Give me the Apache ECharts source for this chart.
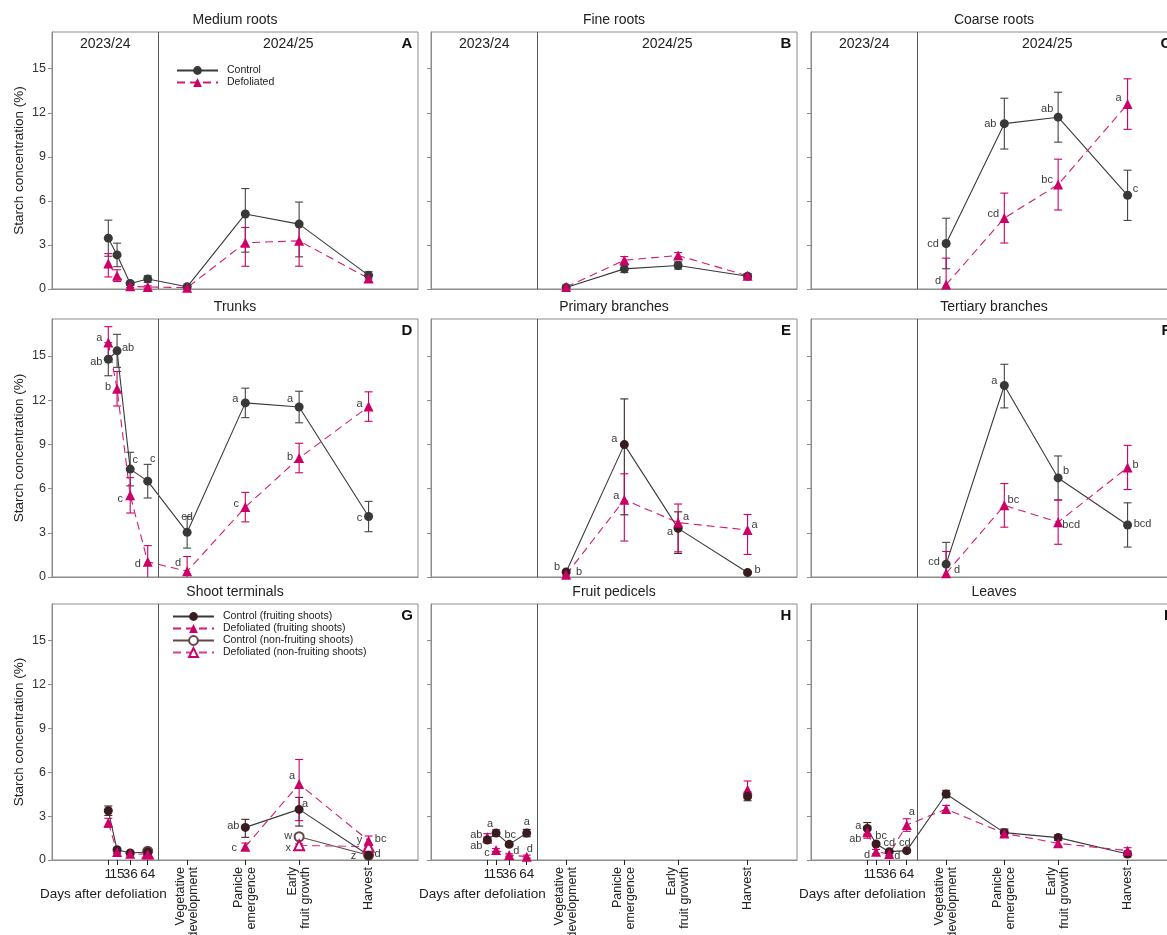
<!DOCTYPE html>
<html>
<head>
<meta charset="utf-8">
<title>Starch concentration by organ</title>
<script src="https://cdn.jsdelivr.net/npm/echarts@6/dist/echarts.min.js"></script>
<style>
  html, body { margin: 0; padding: 0; background: #fff; }
  #chart { width: 1167px; height: 935px; }
</style>
</head>
<body>
<div id="chart"></div>
<script>
const FONT = '"Liberation Sans", Arial, Helvetica, sans-serif';

// Shared time scale: days after defoliation (2023/24), then 2024/25 phenological stages
const sampleDays = [1, 15, 36, 64];
const dayLabels = ['1', '15', '36', '64'];
const stageDays = [127, 220, 306, 417];
const stageLabels = ['Vegetative\ndevelopment', 'Panicle\nemergence', 'Early\nfruit growth', 'Harvest'];
const seasonBreak = 81;
const seasonLabels = ['2023/24', '2024/25'];
const yTicks = [0, 3, 6, 9, 12, 15];
const n = null;

// Error entries: a number is a symmetric SE, a pair is [below, above]
// A. Medium roots
const medRootsCtrl   = [3.46, 2.32, 0.38, 0.68, 0.15, 5.11, 4.42, 0.93];
const medRootsCtrlSE = [1.23, 0.8, 0.1, 0.22, 0.06, [2.6, 1.73], [2.23, 1.5], 0.25];
const medRootsDef    = [1.73, 0.91, 0.18, 0.14, 0.09, 3.15, 3.28, 0.72];
const medRootsDefSE  = [[0.91, 0.68], 0.4, 0.08, 0.08, 0.05, [1.6, 1.04], [1.73, 1.2], 0.22];

// B. Fine roots
const fineRootsCtrl   = [n, n, n, n, 0.1, 1.37, 1.6, 0.87];
const fineRootsCtrlSE = [n, n, n, n, 0.08, 0.25, 0.25, 0.15];
const fineRootsDef    = [n, n, n, n, 0.13, 1.96, 2.28, 0.9];
const fineRootsDefSE  = [n, n, n, n, 0.08, 0.25, 0.2, 0.15];

// C. Coarse roots
const coarseRootsCtrl    = [n, n, n, n, 3.1, 11.26, 11.7, 6.38];
const coarseRootsCtrlSE  = [n, n, n, n, 1.72, 1.73, 1.7, 1.71];
const coarseRootsDef     = [n, n, n, n, 0.3, 4.83, 7.11, 12.59];
const coarseRootsDefSE   = [n, n, n, n, 1.8, 1.7, 1.73, 1.72];
const coarseRootsCtrlSig = [n, n, n, n, 'cd', 'ab', 'ab', 'c'];
const coarseRootsDefSig  = [n, n, n, n, 'd', 'cd', 'bc', 'a'];

// D. Trunks
const trunksCtrl    = [14.77, 15.34, 7.32, 6.5, 3.03, 11.81, 11.53, 4.1];
const trunksCtrlSE  = [1.12, 1.12, 1.14, 1.14, 1.07, 1.0, 1.07, 1.03];
const trunksDef     = [15.91, 12.77, 5.54, 1.03, 0.39, 4.74, 8.07, 11.56];
const trunksDefSE   = [1.07, 1.17, 1.2, 1.1, 1.0, 1.0, 1.0, 1.0];
const trunksCtrlSig = ['ab', 'ab', 'c', 'c', 'cd', 'a', 'a', 'c'];
const trunksDefSig  = ['a', 'b', 'c', 'd', 'd', 'c', 'b', 'a'];

// E. Primary branches
const primBrCtrl    = [n, n, n, n, 0.34, 8.98, 3.3, 0.3];
const primBrCtrlSE  = [n, n, n, n, 0.1, [4.76, 3.1], [1.7, 1.12], 0.08];
const primBrDef     = [n, n, n, n, 0.16, 5.24, 3.69, 3.19];
const primBrDefSE   = [n, n, n, n, 0.08, [2.8, 1.76], [1.98, 1.26], [1.66, 1.05]];
const primBrCtrlSig = [n, n, n, n, 'b', 'a', 'a', 'b'];
const primBrDefSig  = [n, n, n, n, 'b', 'a', 'a', 'a'];

// F. Tertiary branches
const tertBrCtrl    = [n, n, n, n, 0.87, 12.99, 6.72, 3.53];
const tertBrCtrlSE  = [n, n, n, n, 1.48, [1.52, 1.44], 1.49, 1.5];
const tertBrDef     = [n, n, n, n, 0.25, 4.86, 3.72, 7.43];
const tertBrDefSE   = [n, n, n, n, 1.48, 1.48, 1.5, 1.5];
const tertBrCtrlSig = [n, n, n, n, 'cd', 'a', 'b', 'bcd'];
const tertBrDefSig  = [n, n, n, n, 'd', 'bc', 'bcd', 'b'];

// G. Shoot terminals
const shootCtrlF     = [3.37, 0.7, 0.48, 0.55, n, 2.23, 3.46, 0.32];
const shootCtrlFSE   = [0.32, 0.12, 0.08, 0.08, n, [0.68, 0.55], [1.14, 0.82], 0.08];
const shootDefF      = [2.55, 0.55, 0.42, 0.4, n, 0.91, 5.19, 1.32];
const shootDefFSE    = [0.3, 0.1, 0.08, 0.08, n, 0.25, [2.5, 1.68], 0.32];
const shootCtrlNF    = [n, n, n, 0.6, n, n, 1.59, 0.32];
const shootCtrlNFSE  = [n, n, n, 0.08, n, n, 0.1, 0.08];
const shootDefNF     = [n, n, n, 0.45, n, n, 1.0, 0.91];
const shootDefNFSE   = [n, n, n, 0.08, n, n, 0.1, 0.12];
const shootCtrlFSig  = [n, n, n, n, n, 'ab', 'a', 'd'];
const shootDefFSig   = [n, n, n, n, n, 'c', 'a', 'bc'];
const shootCtrlNFSig = [n, n, n, n, n, n, 'w', 'z'];
const shootDefNFSig  = [n, n, n, n, n, n, 'x', 'y'];

// H. Fruit pedicels
const pedicelCtrl    = [1.37, 1.84, 1.07, 1.84, n, n, n, 4.35];
const pedicelCtrlSE  = [0.2, 0.22, 0.15, 0.25, n, n, n, 0.3];
const pedicelDef     = [1.55, 0.68, 0.34, 0.23, n, n, n, 4.8];
const pedicelDefSE   = [0.25, 0.1, 0.08, 0.1, n, n, n, 0.6];
const pedicelCtrlSig = ['ab', 'a', 'bc', 'a', n, n, n, n];
const pedicelDefSig  = ['ab', 'c', 'd', 'd', n, n, n, n];

// I. Leaves
const leafCtrl    = [2.16, 1.09, 0.57, 0.64, 4.51, 1.87, 1.53, 0.41];
const leafCtrlSE  = [0.4, 0.12, 0.1, 0.08, 0.25, 0.25, 0.2, 0.2];
const leafDef     = [1.89, 0.57, 0.41, 2.39, 3.48, 1.82, 1.14, 0.64];
const leafDefSE   = [0.4, 0.15, 0.12, 0.43, 0.25, 0.25, 0.2, 0.2];
const leafCtrlSig = ['a', 'bc', 'cd', 'cd', n, n, n, n];
const leafDefSig  = ['ab', 'd', 'd', 'a', n, n, n, n];

// Placement of the significance letters, px offset from the marker centre
const coarseRootsCtrlOff = [n, n, n, n, [-13, 0], [-14, 0], [-11, -8], [8, -6]];
const coarseRootsDefOff  = [n, n, n, n, [-8, -4], [-11, -4], [-11, -5], [-9, -6]];
const trunksCtrlOff = [[-12, 3], [11, -3], [5, -9], [5, -22], [0, -15], [-10, -4], [-9, -8], [-9, 1]];
const trunksDefOff  = [[-9, -4], [-9, -2], [-10, 4], [-10, 2], [-9, -8], [-9, -3], [-9, -1], [-9, -3]];
const primBrCtrlOff = [n, n, n, n, [-9, -5], [-10, -6], [-8, 4], [10, -3]];
const primBrDefOff  = [n, n, n, n, [13, -3], [-8, -4], [8, -6], [7, -5]];
const tertBrCtrlOff = [n, n, n, n, [-12, -2], [-10, -5], [8, -7], [15, -1]];
const tertBrDefOff  = [n, n, n, n, [11, -3], [9, -5], [13, 3], [8, -2]];
const shootCtrlFOff  = [n, n, n, n, n, [-12, -1], [6, -5], [9, -1]];
const shootDefFOff   = [n, n, n, n, n, [-11, 1], [-7, -8], [12, -2]];
const shootCtrlNFOff = [n, n, n, n, n, n, [-11, -1], [-15, 1]];
const shootDefNFOff  = [n, n, n, n, n, n, [-11, 3], [-9, -7]];
const pedicelCtrlOff = [[-11, 6], [-6, -9], [1, -9], [0, -11], n, n, n, n];
const pedicelDefOff  = [[-11, -2], [-9, 3], [7, -4], [3, -8], n, n, n, n];
const leafCtrlOff = [[-9, -2], [5, -8], [0, -9], [-2, -8], n, n, n, n];
const leafDefOff  = [[-12, 7], [-9, 3], [8, 2], [5, -13], n, n, n, n];

// Visual styles per treatment
const PINK = '#cc0066';
const STYLES = {
  ctrl:   { line: '#3a3a3a', dash: 'solid', symbol: 'circle', fill: '#383838', err: '#444444' },
  def:    { line: '#d11a72', dash: [8, 5], symbol: 'triangle', fill: PINK, err: PINK },
  ctrlF:  { line: '#3a3a3a', dash: 'solid', symbol: 'circle', fill: '#3a1c20', err: '#3a2226' },
  ctrlNF: { line: '#654646', dash: 'solid', symbol: 'emptyCircle', fill: '#654646', err: '#654646' },
  defNF:  { line: '#d5408a', dash: [8, 5], symbol: 'emptyTriangle', fill: PINK, err: PINK }
};

const panels = [
  { title: 'Medium roots', letter: 'A', series: [
    { name: 'Control', kind: 'ctrl', mean: medRootsCtrl, se: medRootsCtrlSE },
    { name: 'Defoliated', kind: 'def', mean: medRootsDef, se: medRootsDefSE }] },
  { title: 'Fine roots', letter: 'B', series: [
    { name: 'Control', kind: 'ctrl', mean: fineRootsCtrl, se: fineRootsCtrlSE },
    { name: 'Defoliated', kind: 'def', mean: fineRootsDef, se: fineRootsDefSE }] },
  { title: 'Coarse roots', letter: 'C', series: [
    { name: 'Control', kind: 'ctrl', mean: coarseRootsCtrl, se: coarseRootsCtrlSE, sig: coarseRootsCtrlSig, off: coarseRootsCtrlOff },
    { name: 'Defoliated', kind: 'def', mean: coarseRootsDef, se: coarseRootsDefSE, sig: coarseRootsDefSig, off: coarseRootsDefOff }] },
  { title: 'Trunks', letter: 'D', series: [
    { name: 'Control', kind: 'ctrl', mean: trunksCtrl, se: trunksCtrlSE, sig: trunksCtrlSig, off: trunksCtrlOff },
    { name: 'Defoliated', kind: 'def', mean: trunksDef, se: trunksDefSE, sig: trunksDefSig, off: trunksDefOff }] },
  { title: 'Primary branches', letter: 'E', series: [
    { name: 'Control', kind: 'ctrlF', mean: primBrCtrl, se: primBrCtrlSE, sig: primBrCtrlSig, off: primBrCtrlOff },
    { name: 'Defoliated', kind: 'def', mean: primBrDef, se: primBrDefSE, sig: primBrDefSig, off: primBrDefOff }] },
  { title: 'Tertiary branches', letter: 'F', series: [
    { name: 'Control', kind: 'ctrl', mean: tertBrCtrl, se: tertBrCtrlSE, sig: tertBrCtrlSig, off: tertBrCtrlOff },
    { name: 'Defoliated', kind: 'def', mean: tertBrDef, se: tertBrDefSE, sig: tertBrDefSig, off: tertBrDefOff }] },
  { title: 'Shoot terminals', letter: 'G', series: [
    { name: 'Control (non-fruiting shoots)', kind: 'ctrlNF', mean: shootCtrlNF, se: shootCtrlNFSE, sig: shootCtrlNFSig, off: shootCtrlNFOff },
    { name: 'Defoliated (non-fruiting shoots)', kind: 'defNF', mean: shootDefNF, se: shootDefNFSE, sig: shootDefNFSig, off: shootDefNFOff },
    { name: 'Control (fruiting shoots)', kind: 'ctrlF', mean: shootCtrlF, se: shootCtrlFSE, sig: shootCtrlFSig, off: shootCtrlFOff },
    { name: 'Defoliated (fruiting shoots)', kind: 'def', mean: shootDefF, se: shootDefFSE, sig: shootDefFSig, off: shootDefFOff }] },
  { title: 'Fruit pedicels', letter: 'H', series: [
    { name: 'Defoliated', kind: 'def', mean: pedicelDef, se: pedicelDefSE, sig: pedicelDefSig, off: pedicelDefOff },
    { name: 'Control', kind: 'ctrlF', mean: pedicelCtrl, se: pedicelCtrlSE, sig: pedicelCtrlSig, off: pedicelCtrlOff }] },
  { title: 'Leaves', letter: 'I', series: [
    { name: 'Control', kind: 'ctrlF', mean: leafCtrl, se: leafCtrlSE, sig: leafCtrlSig, off: leafCtrlOff },
    { name: 'Defoliated', kind: 'def', mean: leafDef, se: leafDefSE, sig: leafDefSig, off: leafDefOff }] }
];

// Panel layout (px)
const COL_LEFT = [52, 431, 811];
const ROW_TOP = [32, 319, 604];
const ROW_HEIGHT = [257, 258, 256];
const PANEL_W = 366;
const X_MIN = -89, X_MAX = 496;
const FRAME = '#8c8c8c';
const xs = sampleDays.concat(stageDays);

// Day ticks sit too close to label on one axis, so they are spread over two label-only axes
const dayLabelGroups = [[sampleDays[0], sampleDays[2], sampleDays[3]], [sampleDays[1]]];

function errorBarRenderer(color) {
  return function (params, api) {
    const x = api.value(0);
    const pLo = api.coord([x, api.value(1)]);
    const pHi = api.coord([x, api.value(2)]);
    const hw = 4;
    const style = { stroke: color, lineWidth: 1.1, fill: null };
    return {
      type: 'group',
      children: [
        { type: 'line', shape: { x1: pLo[0], y1: pLo[1], x2: pHi[0], y2: pHi[1] }, style },
        { type: 'line', shape: { x1: pLo[0] - hw, y1: pLo[1], x2: pLo[0] + hw, y2: pLo[1] }, style },
        { type: 'line', shape: { x1: pHi[0] - hw, y1: pHi[1], x2: pHi[0] + hw, y2: pHi[1] }, style }
      ]
    };
  };
}

function labelAxis(gridIndex, values, extra) {
  return {
    gridIndex, type: 'value', min: X_MIN, max: X_MAX, position: 'bottom',
    splitLine: { show: false }, axisLine: { show: false }, axisTick: { show: false },
    axisLabel: Object.assign({
      show: true, customValues: values, margin: 7, color: '#222',
      showMinLabel: true, showMaxLabel: true, hideOverlap: false
    }, extra)
  };
}

const option = {
  animation: false,
  backgroundColor: '#ffffff',
  textStyle: { fontFamily: FONT },
  grid: [], xAxis: [], yAxis: [], series: [], graphic: [],
  legend: [
    {
      data: ['Control', 'Defoliated'],
      left: 176, top: 65, orient: 'vertical', padding: 0,
      itemWidth: 41, itemHeight: 11, itemGap: 1, selectedMode: false,
      textStyle: { fontFamily: FONT, fontSize: 10.5, color: '#222', padding: [0, 0, 0, 4] }
    },
    {
      data: ['Control (fruiting shoots)', 'Defoliated (fruiting shoots)',
             'Control (non-fruiting shoots)', 'Defoliated (non-fruiting shoots)'],
      left: 172, top: 611, orient: 'vertical', padding: 0,
      itemWidth: 41, itemHeight: 11, itemGap: 1, selectedMode: false,
      textStyle: { fontFamily: FONT, fontSize: 10.5, color: '#222', padding: [0, 0, 0, 4] }
    }
  ]
};

panels.forEach((p, i) => {
  const r = Math.floor(i / 3), c = i % 3;
  const left = COL_LEFT[c], top = ROW_TOP[r], height = ROW_HEIGHT[r];
  const bottomRow = r === 2;

  option.grid.push({
    left, top, width: PANEL_W, height,
    show: true, borderColor: FRAME, borderWidth: 1, backgroundColor: 'transparent',
    containLabel: false, outerBoundsMode: 'none'
  });

  const xIndex = option.xAxis.length;
  option.xAxis.push({
    gridIndex: i, type: 'value', min: X_MIN, max: X_MAX, position: 'bottom',
    splitLine: { show: false },
    axisLine: { show: true, onZero: false, lineStyle: { color: FRAME } },
    axisTick: bottomRow
      ? { show: true, customValues: xs, length: 5, inside: false, lineStyle: { color: '#222' } }
      : { show: false },
    axisLabel: { show: false }
  });
  if (bottomRow) {
    dayLabelGroups.forEach(vals => {
      option.xAxis.push(labelAxis(i, vals, {
        fontSize: 13.5, formatter: v => dayLabels[sampleDays.indexOf(v)]
      }));
    });
    option.xAxis.push(labelAxis(i, stageDays, {
      rotate: 90, fontSize: 12.5, lineHeight: 13,
      formatter: v => stageLabels[stageDays.indexOf(v)]
    }));
  }

  option.yAxis.push({
    gridIndex: i, type: 'value', min: 0, max: 17.5,
    splitLine: { show: false },
    axisLine: { show: true, onZero: false, lineStyle: { color: FRAME } },
    axisTick: { show: true, customValues: yTicks, length: 4, lineStyle: { color: FRAME } },
    axisLabel: c === 0
      ? { show: true, customValues: yTicks, fontSize: 12.5, color: '#333', margin: 6 }
      : { show: false },
    name: c === 0 ? 'Starch concentration (%)' : '',
    nameLocation: 'middle', nameGap: 26,
    nameTextStyle: { fontSize: 13.5, color: '#222', fontFamily: FONT }
  });

  p.series.forEach((s, si) => {
    const st = STYLES[s.kind];
    const empty = st.symbol.indexOf('empty') === 0;

    const bars = [];
    s.mean.forEach((v, k) => {
      if (v == null || s.se[k] == null) return;
      const e = s.se[k];
      const below = Array.isArray(e) ? e[0] : e;
      const above = Array.isArray(e) ? e[1] : e;
      bars.push([xs[k], v - below, v + above]);
    });
    option.series.push({
      type: 'custom', name: s.name + ' SE', xAxisIndex: xIndex, yAxisIndex: i,
      clip: true, silent: true, z: 2,
      encode: { x: 0, y: [1, 2] },
      renderItem: errorBarRenderer(st.err),
      data: bars
    });

    const data = xs.map((x, k) => {
      const v = s.mean[k];
      if (v == null) return [x, '-'];
      const item = { value: [x, v] };
      if (s.sig && s.sig[k]) {
        item.label = {
          show: true, formatter: s.sig[k], position: 'inside',
          offset: s.off[k], fontSize: 11, color: '#3c3c3c', fontFamily: FONT
        };
      }
      return item;
    });

    const line = {
      type: 'line', name: s.name, xAxisIndex: xIndex, yAxisIndex: i, z: 3,
      data, connectNulls: false, silent: true,
      symbol: st.symbol, symbolSize: st.symbol.indexOf('riangle') >= 0 ? 10 : 9,
      showAllSymbol: true,
      lineStyle: { color: st.line, width: 1.1, type: st.dash },
      itemStyle: empty
        ? { color: st.fill, borderColor: st.fill, borderWidth: 1.2 }
        : { color: st.fill, borderWidth: 0 },
      emphasis: { disabled: true }
    };
    if (si === 0) {
      line.markLine = {
        silent: true, symbol: ['none', 'none'], label: { show: false },
        lineStyle: { color: '#555', width: 1, type: 'solid' },
        emphasis: { disabled: true },
        data: [{ xAxis: seasonBreak }]
      };
    }
    option.series.push(line);
  });

  // Panel title and panel letter
  option.graphic.push({
    type: 'text', x: left + PANEL_W / 2, y: top - 12, silent: true,
    style: { text: p.title, font: '14px ' + FONT, fill: '#222', align: 'center', verticalAlign: 'middle' }
  });
  option.graphic.push({
    type: 'text', x: left + 355, y: top + 12, silent: true,
    style: { text: p.letter, font: 'bold 15px ' + FONT, fill: '#111', align: 'center', verticalAlign: 'middle' }
  });

  // Season headings on the top row
  if (r === 0) {
    const breakPx = left + (seasonBreak - X_MIN) / (X_MAX - X_MIN) * PANEL_W;
    option.graphic.push({
      type: 'text', x: (left + breakPx) / 2, y: top + 12, silent: true,
      style: { text: seasonLabels[0], font: '14px ' + FONT, fill: '#222', align: 'center', verticalAlign: 'middle' }
    });
    option.graphic.push({
      type: 'text', x: (breakPx + left + PANEL_W) / 2, y: top + 12, silent: true,
      style: { text: seasonLabels[1], font: '14px ' + FONT, fill: '#222', align: 'center', verticalAlign: 'middle' }
    });
  }

  if (bottomRow) {
    option.graphic.push({
      type: 'text', x: left - 12, y: top + height + 34, silent: true,
      style: { text: 'Days after defoliation', font: '13.5px ' + FONT, fill: '#222', align: 'left', verticalAlign: 'middle' }
    });
  }
});

const chart = echarts.init(document.getElementById('chart'), null, { renderer: 'canvas' });
chart.setOption(option);
</script>
</body>
</html>
